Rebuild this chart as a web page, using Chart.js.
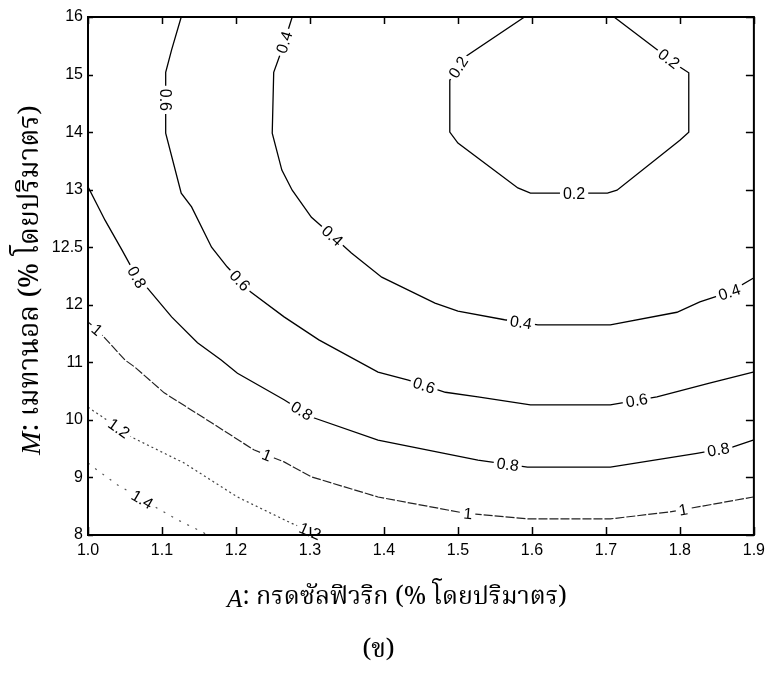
<!DOCTYPE html>
<html lang="th">
<head>
<meta charset="utf-8">
<title>Contour — M vs A</title>
<script src="https://cdn.jsdelivr.net/npm/chart.js@4.4.1/dist/chart.umd.min.js"></script>
<style>
  html, body { margin: 0; padding: 0; background: #fff; }
  #wrap { width: 771px; height: 677px; }
</style>
</head>
<body>
<div id="wrap"><canvas id="contour" width="771" height="677"></canvas></div>
<script>
// ── Data ──
// y axis is drawn by tick position; each position carries its printed label
const Y_TICK_LABELS = ['8', '9', '10', '11', '12', '12.5', '13', '14', '15', '16'];
const LEVELS        = ['0.2', '0.4', '0.6', '0.8', '1', '1.2', '1.4'];

// contour paths as [A, M tick position]
const C_02 = [[1.590, 9.00], [1.509, 8.30], [1.489, 7.90], [1.489, 7.00], [1.500, 6.81], [1.581, 6.03],
              [1.598, 5.94], [1.702, 5.94], [1.715, 5.99], [1.800, 6.86], [1.812, 7.00], [1.812, 8.03],
              [1.800, 8.13], [1.711, 9.00]];
const C_04 = [[1.276, 9.00], [1.262, 8.43], [1.251, 8.04], [1.249, 6.98], [1.262, 6.34], [1.276, 5.99],
              [1.302, 5.52], [1.325, 5.26], [1.356, 4.90], [1.397, 4.48], [1.469, 4.03], [1.500, 3.89],
              [1.563, 3.74], [1.608, 3.65], [1.706, 3.65], [1.796, 3.87], [1.827, 4.05], [1.867, 4.22],
              [1.899, 4.46]];
const C_06 = [[1.126, 9.00], [1.113, 8.43], [1.105, 8.04], [1.105, 6.98], [1.126, 5.94], [1.140, 5.70],
              [1.167, 5.00], [1.188, 4.66], [1.220, 4.22], [1.265, 3.79], [1.312, 3.39], [1.392, 2.83],
              [1.433, 2.69], [1.483, 2.48], [1.527, 2.40], [1.598, 2.26], [1.706, 2.26], [1.769, 2.40],
              [1.840, 2.64], [1.899, 2.83]];
const C_08 = [[1.000, 6.05], [1.023, 5.47], [1.046, 4.95], [1.066, 4.48], [1.079, 4.31], [1.113, 3.79],
              [1.148, 3.34], [1.180, 3.04], [1.202, 2.81], [1.265, 2.35], [1.302, 2.05], [1.392, 1.65],
              [1.527, 1.30], [1.594, 1.18], [1.706, 1.18], [1.823, 1.42], [1.872, 1.53], [1.899, 1.65]];
const C_10 = [[1.000, 3.70], [1.013, 3.56], [1.050, 3.04], [1.063, 2.92], [1.103, 2.47], [1.167, 1.95],
              [1.224, 1.48], [1.265, 1.27], [1.302, 1.01], [1.392, 0.66], [1.509, 0.38], [1.594, 0.28],
              [1.706, 0.28], [1.786, 0.40], [1.899, 0.66]];
const C_12 = [[1.000, 2.22], [1.030, 1.96], [1.059, 1.70], [1.130, 1.25], [1.202, 0.66], [1.274, 0.21],
              [1.312, 0.00]];
const C_14 = [[1.000, 1.25], [1.009, 1.16], [1.040, 0.87], [1.093, 0.47], [1.126, 0.23], [1.155, 0.05],
              [1.161, 0.00]];

// where each level's inline label sits
const L_02 = [[1.500, 8.13], [1.657, 5.94], [1.786, 8.29]];
const L_04 = [[1.268, 8.55], [1.329, 5.18], [1.585, 3.68], [1.867, 4.22]];
const L_06 = [[1.105, 7.56], [1.202, 4.38], [1.453, 2.55], [1.742, 2.31]];
const L_08 = [[1.066, 4.48], [1.288, 2.14], [1.567, 1.20], [1.852, 1.48]];
const L_10 = [[1.012, 3.56], [1.241, 1.36], [1.513, 0.31], [1.805, 0.40]];
const L_12 = [[1.040, 1.82], [1.301, 0.09]];
const L_14 = [[1.073, 0.61]];

const PATHS  = [C_02, C_04, C_06, C_08, C_10, C_12, C_14];
const LABELS = [L_02, L_04, L_06, L_08, L_10, L_12, L_14];

// ── Styles ──
const TICK_FONT  = { family: '"Liberation Sans", Arial, sans-serif', size: 16 };
const LABEL_FONT = '16px "Liberation Sans", Arial, sans-serif';
const THAI_FONT  = '"Noto Serif Thai", "Noto Sans Thai", Garuda, Loma, Norasi, "Liberation Serif", serif';
const LINE_STYLE = [
  { color: '#000', dash: [],     width: 1.3 },
  { color: '#000', dash: [],     width: 1.3 },
  { color: '#000', dash: [],     width: 1.3 },
  { color: '#000', dash: [],     width: 1.3 },
  { color: '#222', dash: [9, 2], width: 1.2 },
  { color: '#444', dash: [2, 3], width: 1.2 },
  { color: '#555', dash: [2, 7], width: 1.2 }
];

// ── Helpers ──
function toPoints(path) {
  return path.map(([a, m]) => ({ x: a, y: m }));
}

function drawRuns(ctx, runs, cx, cy) {
  let total = 0;
  runs.forEach(r => { ctx.font = r.font; r.w = ctx.measureText(r.text).width; total += r.w; });
  let x = cx - total / 2;
  runs.forEach(r => { ctx.font = r.font; ctx.fillText(r.text, x, cy); x += r.w; });
}

// ── Plugins ──
// inline contour labels, rotated along the path with a white gap behind
const contourLabels = {
  id: 'contourLabels',
  afterDatasetsDraw(chart) {
    const { ctx, scales: { x, y } } = chart;
    ctx.save();
    ctx.font = LABEL_FONT;
    ctx.textAlign = 'center';
    ctx.textBaseline = 'middle';
    chart.data.datasets.forEach(ds => {
      const pts = ds.data.map(p => ({ px: x.getPixelForValue(p.x), py: y.getPixelForValue(p.y) }));
      ds.labelAt.forEach(([la, lm]) => {
        const tx = x.getPixelForValue(la), ty = y.getPixelForValue(lm);
        let best = null;
        for (let i = 0; i < pts.length - 1; i++) {
          const a = pts[i], b = pts[i + 1];
          const dx = b.px - a.px, dy = b.py - a.py;
          const len2 = dx * dx + dy * dy || 1;
          const t = Math.max(0, Math.min(1, ((tx - a.px) * dx + (ty - a.py) * dy) / len2));
          const qx = a.px + t * dx, qy = a.py + t * dy;
          const d = (qx - tx) ** 2 + (qy - ty) ** 2;
          if (!best || d < best.d) best = { d, qx, qy, ang: Math.atan2(dy, dx) };
        }
        let ang = best.ang;
        if (ang > Math.PI / 2) ang -= Math.PI;
        if (ang < -Math.PI / 2) ang += Math.PI;
        ctx.save();
        ctx.translate(best.qx, best.qy);
        ctx.rotate(ang);
        const w = ctx.measureText(ds.label).width + 6;
        ctx.fillStyle = '#fff';
        ctx.fillRect(-w / 2, -6, w, 12);
        ctx.fillStyle = '#000';
        ctx.fillText(ds.label, 0, 1);
        ctx.restore();
      });
    });
    ctx.restore();
  }
};

// box round the plot with inward tick marks on all four sides
const frameTicks = {
  id: 'frameTicks',
  afterDraw(chart) {
    const { ctx, chartArea: { left, right, top, bottom }, scales: { x, y } } = chart;
    ctx.save();
    ctx.strokeStyle = '#000';
    ctx.lineWidth = 2;
    ctx.strokeRect(left, top, right - left, bottom - top);
    ctx.lineWidth = 1.5;
    ctx.beginPath();
    x.ticks.forEach(t => {
      const px = Math.round(x.getPixelForValue(t.value)) + 0.5;
      ctx.moveTo(px, bottom); ctx.lineTo(px, bottom - 8);
      ctx.moveTo(px, top);    ctx.lineTo(px, top + 7);
    });
    y.ticks.forEach(t => {
      const py = Math.round(y.getPixelForValue(t.value)) + 0.5;
      ctx.moveTo(left, py);  ctx.lineTo(left + 5, py);
      ctx.moveTo(right, py); ctx.lineTo(right - 8, py);
    });
    ctx.stroke();
    ctx.restore();
  }
};

// axis titles: italic variable letter followed by the Thai description
const axisTitles = {
  id: 'axisTitles',
  afterDraw(chart) {
    const { ctx } = chart;
    ctx.save();
    ctx.fillStyle = '#000';
    ctx.textAlign = 'left';
    ctx.textBaseline = 'middle';
    drawRuns(ctx, [
      { text: 'A', font: 'italic 25px "Liberation Serif", serif' },
      { text: ': กรดซัลฟิวริก (% โดยปริมาตร)', font: '25px ' + THAI_FONT }
    ], 397, 600);
    ctx.translate(33, 280);
    ctx.rotate(-Math.PI / 2);
    drawRuns(ctx, [
      { text: 'M', font: 'italic 28px "Liberation Serif", serif' },
      { text: ': เมทานอล (% โดยปริมาตร)', font: '28px ' + THAI_FONT }
    ], 0, 0);
    ctx.restore();
  }
};

// ── Chart ──
const datasets = LEVELS.map((lvl, i) => ({
  label: lvl,
  data: toPoints(PATHS[i]),
  labelAt: LABELS[i],
  showLine: true,
  borderColor: LINE_STYLE[i].color,
  borderWidth: LINE_STYLE[i].width,
  borderDash: LINE_STYLE[i].dash,
  pointRadius: 0,
  tension: 0,
  fill: false
}));

new Chart(document.getElementById('contour'), {
  type: 'scatter',
  data: { datasets },
  options: {
    responsive: false,
    animation: false,
    layout: { padding: { top: 17, right: 14, left: 0, bottom: 0 } },
    plugins: {
      legend: { display: false },
      tooltip: { enabled: false },
      title: {
        display: true,
        position: 'bottom',
        text: '(ข)',
        color: '#000',
        font: { family: THAI_FONT, size: 26, weight: 'normal' },
        padding: { top: 0, bottom: 9 }
      }
    },
    scales: {
      x: {
        type: 'linear',
        min: 1.0,
        max: 1.9,
        grid: { display: false, drawTicks: false },
        border: { display: false },
        ticks: {
          stepSize: 0.1,
          autoSkip: false,
          maxRotation: 0,
          padding: 6,
          color: '#000',
          font: TICK_FONT,
          callback: v => Number(v).toFixed(1)
        },
        afterFit: s => { s.height = 101.8; }
      },
      y: {
        type: 'linear',
        min: 0,
        max: 9,
        grid: { display: false, drawTicks: false },
        border: { display: false },
        ticks: {
          stepSize: 1,
          autoSkip: false,
          padding: 5,
          color: '#000',
          font: TICK_FONT,
          callback: v => Y_TICK_LABELS[Math.round(v)] ?? ''
        },
        afterFit: s => { s.width = 88; }
      }
    }
  },
  plugins: [contourLabels, frameTicks, axisTitles]
});
</script>
</body>
</html>
